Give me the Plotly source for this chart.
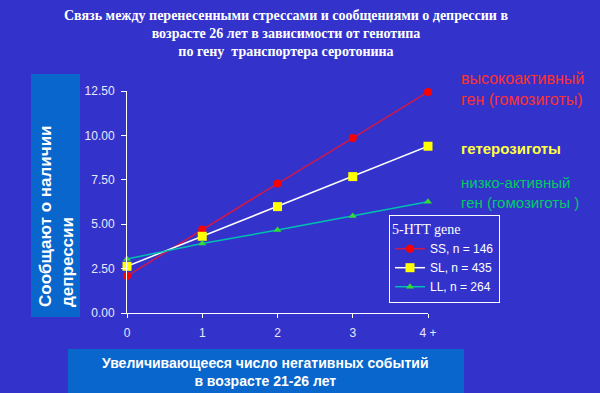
import plotly.graph_objects as go

x_vals = [0, 1, 2, 3, 4]
x_ticktext = ["0", "1", "2", "3", "4 +"]
ss_vals = [2.08, 4.70, 7.29, 9.85, 12.45]
sl_vals = [2.63, 4.32, 5.99, 7.68, 9.39]
ll_vals = [3.04, 3.91, 4.67, 5.46, 6.27]
y_ticks = [0, 2.5, 5, 7.5, 10, 12.5]

BG = "#3333CC"
BOX = "#0866CC"

# plot area in pixels
X0, X1, YT, YB = 127, 428, 91, 313
W, H = 600, 393


def px(x):
    return (x - X0) / (X1 - X0)


def py(y):
    return (YB - y) / (YB - YT)


fig = go.Figure()
fig.add_trace(go.Scatter(
    x=x_vals, y=ss_vals, name="SS, n = 146", mode="lines+markers",
    line=dict(color="#D01848", width=1.5),
    marker=dict(symbol="circle", size=8, color="#FF0000"),
    cliponaxis=False))
fig.add_trace(go.Scatter(
    x=x_vals, y=sl_vals, name="SL, n = 435", mode="lines+markers",
    line=dict(color="#FFFFFF", width=1.5),
    marker=dict(symbol="square", size=9, color="#FFFF00"),
    cliponaxis=False))
fig.add_trace(go.Scatter(
    x=x_vals, y=ll_vals, name="LL, n = 264", mode="lines+markers",
    line=dict(color="#00C0B0", width=1.5),
    marker=dict(symbol="triangle-up", size=7, color="#33DD33"),
    cliponaxis=False))

shapes = [
    dict(type="rect", xref="paper", yref="paper",
         x0=px(31), x1=px(80), y0=py(317), y1=py(74),
         fillcolor=BOX, line=dict(width=0), layer="below"),
    dict(type="rect", xref="paper", yref="paper",
         x0=px(68), x1=px(464), y0=py(394), y1=py(349),
         fillcolor=BOX, line=dict(width=0), layer="below"),
]

annotations = [
    dict(text="Связь между перенесенными стрессами и сообщениями о депрессии в<br>"
              "возрасте 26 лет в зависимости от генотипа<br>"
              "по гену  транспортера серотонина",
         xref="paper", yref="paper", x=px(286), y=py(33), xanchor="center", yanchor="middle",
         showarrow=False, align="center",
         font=dict(family="Liberation Serif", size=14, color="white", weight="bold")),
    dict(text="Сообщают о наличии<br>депрессии", textangle=-90,
         xref="paper", yref="paper", x=px(56), y=py(309), xanchor="center", yanchor="bottom",
         showarrow=False, align="left",
         font=dict(family="Liberation Sans", size=17, color="white", weight="bold")),
    dict(text="Увеличивающееся число негативных событий<br>в возрасте 21-26 лет",
         xref="paper", yref="paper", x=px(265), y=py(372), xanchor="center", yanchor="middle",
         showarrow=False, align="center",
         font=dict(family="Liberation Sans", size=14, color="white", weight="bold")),
    dict(text="высокоактивный<br>ген (гомозиготы)",
         xref="paper", yref="paper", x=px(459), y=py(89), xanchor="left", yanchor="middle",
         showarrow=False, align="left",
         font=dict(family="Liberation Sans", size=16, color="#FF3030")),
    dict(text="гетерозиготы",
         xref="paper", yref="paper", x=px(459), y=py(148), xanchor="left", yanchor="middle",
         showarrow=False, align="left",
         font=dict(family="Liberation Sans", size=15, color="#FFFF40", weight="bold")),
    dict(text="низко-активный<br>ген (гомозиготы )",
         xref="paper", yref="paper", x=px(459), y=py(192), xanchor="left", yanchor="middle",
         showarrow=False, align="left",
         font=dict(family="Liberation Sans", size=15, color="#00CC66")),
]

fig.update_layout(
    width=W, height=H,
    margin=dict(l=X0, r=W - X1, t=YT, b=H - YB, pad=0),
    paper_bgcolor=BG, plot_bgcolor=BG,
    font=dict(family="Liberation Sans", size=12, color="#E8E8FF"),
    showlegend=True,
    legend=dict(
        x=px(389), y=py(215), xanchor="left", yanchor="top",
        bgcolor=BG, bordercolor="white", borderwidth=1,
        title=dict(text="5-HTT gene", font=dict(family="Liberation Serif", size=14, color="white"),
                   side="top"),
        font=dict(family="Liberation Sans", size=12, color="white"),
        itemwidth=30, tracegroupgap=0,
    ),
    xaxis=dict(range=[0, 4], tickvals=x_vals, ticktext=x_ticktext,
               showgrid=False, zeroline=False, showline=True, linecolor="white", linewidth=1,
               ticks="outside", ticklen=4, tickcolor="white", ticklabelstandoff=5,
               tickfont=dict(size=12, color="#E8E8FF")),
    yaxis=dict(range=[0, 12.5], tickvals=y_ticks, tickformat=".2f",
               showgrid=False, zeroline=False, showline=True, linecolor="white", linewidth=1,
               ticks="outside", ticklen=5, tickcolor="white", ticklabelstandoff=4,
               tickfont=dict(size=12, color="#E8E8FF")),
    shapes=shapes,
    annotations=annotations,
)

fig.write_html(
    "out.html",
    config={"displayModeBar": False},
    post_script="document.body.style.margin='0';document.body.style.overflow='hidden';",
)
